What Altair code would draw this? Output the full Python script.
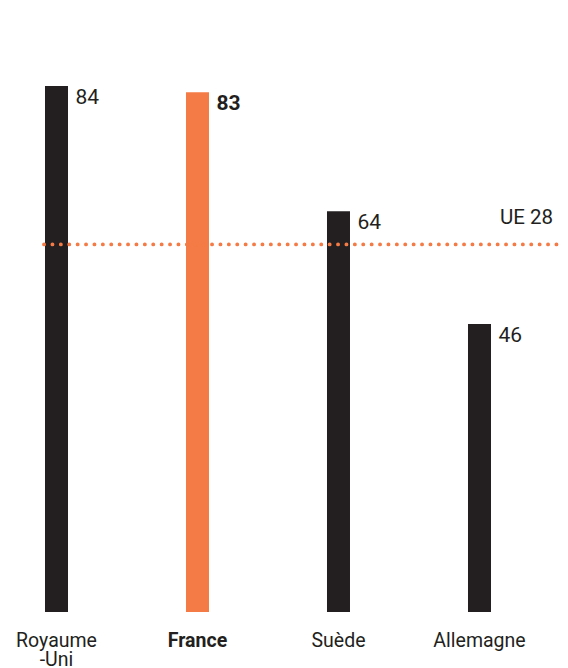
import altair as alt
import pandas as pd

countries = ["Royaume-Uni", "France", "Suède", "Allemagne"]
tick_labels = ["Royaume\n-Uni", "France", "Suède", "Allemagne"]
values = [84, 83, 64, 46]
highlight = ["non", "oui", "non", "non"]
eu_label = "UE 28"
eu_value = 58.7

DARK = "#231f20"
ORANGE = "#f47b45"
TEXT = "#231f20"
FONT = "Roboto"

df = pd.DataFrame({
    "pays": countries,
    "label": tick_labels,
    "valeur": values,
    "idx": list(range(len(countries))),
    "hl": highlight,
})
ref = pd.DataFrame({"valeur": [eu_value], "label": [eu_label]})

xs = alt.X("idx:Q", scale=alt.Scale(domain=[-0.4007, 3.6277], nice=False, zero=False, padding=0), axis=None)
ys = alt.Y("valeur:Q", scale=alt.Scale(domain=[0, 97.73], nice=False), axis=None)

base = alt.Chart(df)

bars = base.mark_bar(size=23).encode(
    x=xs, y=ys,
    color=alt.Color("hl:N", scale=alt.Scale(domain=["non", "oui"], range=[DARK, ORANGE]), legend=None),
)

rule = alt.Chart(ref).mark_rule(
    color=ORANGE, strokeWidth=3.8, strokeDash=[0.1, 8.3], strokeCap="round"
).encode(y=ys, x=alt.value(44), x2=alt.value(557))

ref_text = alt.Chart(ref).mark_text(
    align="right", baseline="alphabetic", dy=-20, fontSize=20.5, font=FONT, color=TEXT
).encode(y=ys, x=alt.value(553), text="label:N")

val_reg = base.transform_filter("datum.hl == 'non'").mark_text(
    align="left", baseline="top", dx=19, dy=1, fontSize=21, font=FONT, color=TEXT
).encode(x=xs, y=ys, text="valeur:Q")

val_bold = base.transform_filter("datum.hl == 'oui'").mark_text(
    align="left", baseline="top", dx=19, dy=1, fontSize=21, font=FONT, fontWeight="bold", color=TEXT
).encode(x=xs, y=ys, text="valeur:Q")

cat_reg = base.transform_filter("datum.hl == 'non'").mark_text(
    align="center", baseline="alphabetic", lineBreak="\n", lineHeight=19.5, fontSize=19.5, font=FONT, color=TEXT
).encode(x=xs, y=alt.value(646.5), text="label:N")

cat_bold = base.transform_filter("datum.hl == 'oui'").mark_text(
    align="center", baseline="alphabetic", lineBreak="\n", lineHeight=19.5, fontSize=19.5, font=FONT, fontWeight="bold", color=TEXT
).encode(x=xs, y=alt.value(646.5), text="label:N")

chart = alt.layer(bars, rule, ref_text, val_reg, val_bold, cat_reg, cat_bold).properties(
    width=568, height=612,
    autosize=alt.AutoSizeParams(type="none"),
    padding={"left": 0, "top": 0, "right": 0, "bottom": 56},
    background="white",
).configure_view(stroke=None)

chart.save("out.html", embed_options={"renderer": "svg", "actions": False})
